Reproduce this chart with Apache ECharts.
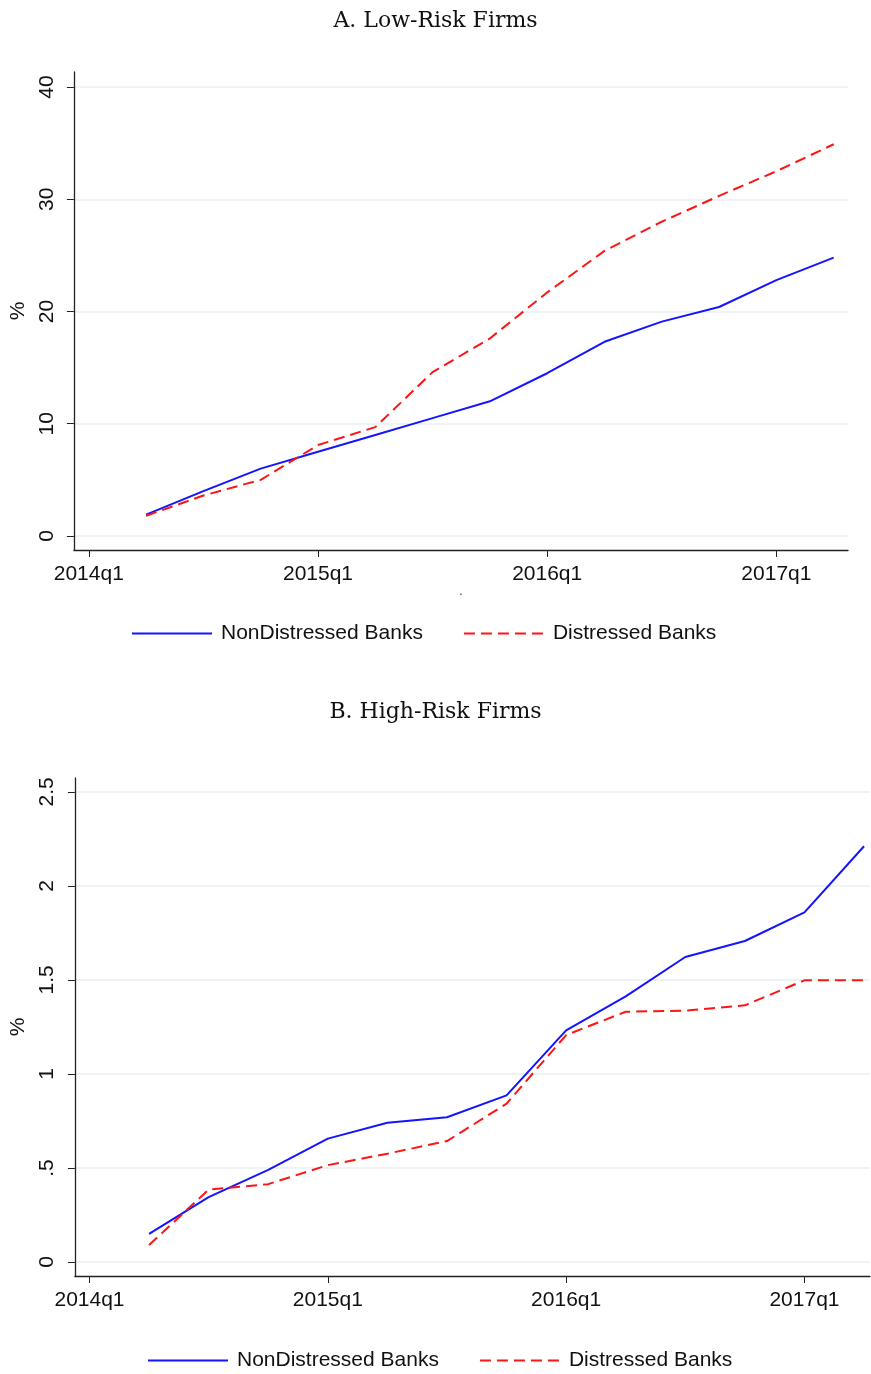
<!DOCTYPE html>
<html>
<head>
<meta charset="utf-8">
<script src="https://cdn.jsdelivr.net/npm/echarts@6/dist/echarts.min.js"></script>
<style>
html,body{margin:0;padding:0;background:#fff;}
#c{width:871px;height:1374px;}
</style>
</head>
<body>
<div id="c"></div>
<script>
// ---- data ----
var quarters = ['2014q2','2014q3','2014q4','2015q1','2015q2','2015q3','2015q4','2016q1','2016q2','2016q3','2016q4','2017q1','2017q2'];
var quarterIdx = [1,2,3,4,5,6,7,8,9,10,11,12,13]; // quarters since 2014q1
var xTickValues = [0,4,8,12];
var xTickLabels = ['2014q1','2015q1','2016q1','2017q1'];

var lowNonDistressed = [1.9,4.0,6.0,7.5,9.0,10.5,12.0,14.5,17.3,19.1,20.4,22.8,24.8];
var lowDistressed    = [1.8,3.6,5.0,8.1,9.7,14.6,17.6,21.7,25.4,28.0,30.3,32.5,34.9];
var lowYTicks = [0,10,20,30,40];
var lowYLabels = ['0','10','20','30','40'];

var highNonDistressed = [0.15,0.345,0.49,0.656,0.741,0.77,0.886,1.232,1.413,1.622,1.707,1.859,2.211];
var highDistressed    = [0.09,0.385,0.414,0.515,0.576,0.643,0.842,1.207,1.331,1.337,1.365,1.498,1.498];
var highYTicks = [0,0.5,1,1.5,2,2.5];
var highYLabels = ['0','.5','1','1.5','2','2.5'];

var seriesNames = ['NonDistressed Banks','Distressed Banks'];
var titles = ['A. Low-Risk Firms','B. High-Risk Firms'];

// ---- helpers ----
function pairs(xs, ys){ return xs.map(function(x,i){ return [x, ys[i]]; }); }
function labelFor(vals, labels){ return function(v){ for(var k=0;k<vals.length;k++){ if(Math.abs(vals[k]-v)<1e-9) return labels[k]; } return ''; }; }

var sans = 'Liberation Sans, Arial, Helvetica, sans-serif';
var serif = 'DejaVu Serif, serif';
var blue = '#1414ff';
var red = '#ff1414';
var gridColor = '#e8eff2';
var axisColor = '#222';

function xAxisCfg(gridIndex, min, max, name){
  return {
    type:'value', gridIndex:gridIndex, min:min, max:max,
    axisLine:{show:true, onZero:false, lineStyle:{color:axisColor, width:1.3}},
    axisTick:{show:true, length:7, customValues:xTickValues, lineStyle:{color:axisColor, width:1}},
    axisLabel:{customValues:xTickValues, formatter:labelFor(xTickValues, xTickLabels), fontFamily:sans, fontSize:21, color:'#111', margin:14},
    splitLine:{show:false},
    name:name||'', nameLocation:'middle', nameGap:32, nameTextStyle:{fontSize:12, color:'#333'}
  };
}
function yAxisCfg(gridIndex, min, max, vals, labels, nameGap, margin){
  return {
    type:'value', gridIndex:gridIndex, min:min, max:max,
    axisLine:{show:true, onZero:false, lineStyle:{color:axisColor, width:1.3}},
    axisTick:{show:true, length:7, customValues:vals, lineStyle:{color:axisColor, width:1}},
    axisLabel:{customValues:vals, formatter:labelFor(vals, labels), rotate:90, fontFamily:sans, fontSize:21, color:'#111', margin:margin},
    splitLine:{show:true, lineStyle:{color:gridColor, width:1.5}},
    name:'%', nameLocation:'middle', nameRotate:90, nameGap:nameGap,
    nameTextStyle:{fontFamily:sans, fontSize:21, color:'#111'}
  };
}
function lineSeries(name, xi, yi, data, color, dashed){
  return {
    type:'line', name:name, xAxisIndex:xi, yAxisIndex:yi, data:data,
    symbol:'none', showSymbol:false, smooth:false, animation:false,
    lineStyle:{color:color, width:2, type: dashed ? [11,6] : 'solid'},
    itemStyle:{color:color}
  };
}
function legendCfg(left, top){
  return {
    data:seriesNames, left:left, top:top, orient:'horizontal',
    itemWidth:80, itemHeight:20, itemGap:40,
    itemStyle:{opacity:0, borderWidth:0},
    textStyle:{fontFamily:sans, fontSize:21, color:'#111', padding:[0,0,0,4]}
  };
}

var chart = echarts.init(document.getElementById('c'), null, {renderer:'canvas', width:871, height:1374});
chart.setOption({
  backgroundColor:'#fff',
  animation:false,
  title:[
    {text:titles[0], left:'center', top:5, textStyle:{fontFamily:serif, fontSize:22, fontWeight:'normal', color:'#111'}},
    {text:titles[1], left:'center', top:696, textStyle:{fontFamily:serif, fontSize:22, fontWeight:'normal', color:'#111'}}
  ],
  grid:[
    {left:71, width:777, top:72, height:478},
    {left:68, width:802, top:778, height:498}
  ],
  xAxis:[
    xAxisCfg(0, -0.26, 13.25, '.'),
    xAxisCfg(1, -0.245, 13.1, '')
  ],
  yAxis:[
    yAxisCfg(0, -1.25, 41.34, lowYTicks, lowYLabels, 40, 16),
    yAxisCfg(1, -0.0745, 2.574, highYTicks, highYLabels, 44, 17)
  ],
  legend:[ legendCfg(126, 618), legendCfg(142, 1345) ],
  series:[
    lineSeries(seriesNames[0], 0, 0, pairs(quarterIdx, lowNonDistressed), blue, false),
    lineSeries(seriesNames[1], 0, 0, pairs(quarterIdx, lowDistressed), red, true),
    lineSeries(seriesNames[0], 1, 1, pairs(quarterIdx, highNonDistressed), blue, false),
    lineSeries(seriesNames[1], 1, 1, pairs(quarterIdx, highDistressed), red, true)
  ]
});
</script>
</body>
</html>
